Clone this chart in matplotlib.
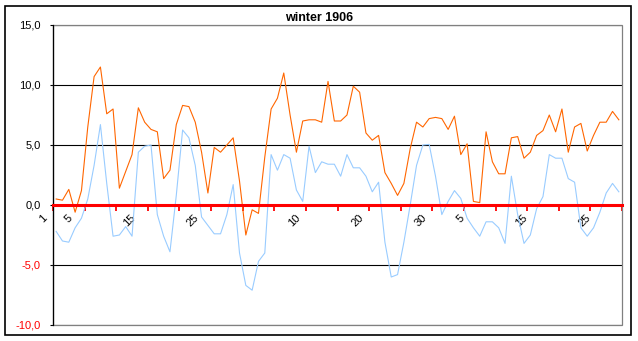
import numpy as np
import matplotlib
matplotlib.use('Agg')
import matplotlib.pyplot as plt
from matplotlib.patches import Rectangle
from matplotlib.transforms import ScaledTranslation

plt.rcParams['font.family'] = ['Liberation Sans', 'DejaVu Sans']

# Tagesmaxima / -minima, 1. Dez 1905 bis 28. Feb 1906 (90 Tage)
t_max = [0.5, 0.4, 1.3, -0.6, 1.2, 6.5, 10.7, 11.5, 7.6, 8.0,
         1.4, 2.8, 4.2, 8.1, 6.9, 6.3, 6.1, 2.2, 2.9, 6.7,
         8.3, 8.2, 6.9, 4.4, 1.0, 4.8, 4.4, 5.0, 5.6, 2.0,
         -2.5, -0.4, -0.7, 4.0, 8.0, 8.9, 11.0, 7.5, 4.4, 7.0,
         7.1, 7.1, 6.9, 10.3, 7.0, 7.0, 7.5, 9.9, 9.4, 6.0,
         5.4, 5.8, 2.7, 1.8, 0.8, 1.8, 4.7, 6.9, 6.5, 7.2,
         7.3, 7.2, 6.3, 7.4, 4.2, 5.1, 0.3, 0.2, 6.1, 3.6,
         2.6, 2.6, 5.6, 5.7, 3.9, 4.4, 5.8, 6.2, 7.5, 6.1,
         8.0, 4.4, 6.5, 6.8, 4.5, 5.8, 6.9, 6.9, 7.8, 7.1]
t_min = [-2.2, -3.0, -3.1, -1.9, -1.1, 0.5, 3.3, 6.7, 1.8, -2.6,
         -2.5, -1.8, -2.6, 4.4, 4.9, 5.0, -0.8, -2.6, -3.9, 0.8,
         6.25, 5.6, 3.3, -1.0, -1.7, -2.4, -2.4, -0.8, 1.7, -4.0,
         -6.7, -7.1, -4.7, -4.0, 4.2, 2.9, 4.2, 3.9, 1.25, 0.3,
         4.9, 2.7, 3.6, 3.4, 3.4, 2.4, 4.2, 3.1, 3.1, 2.4,
         1.1, 1.9, -3.1, -6.0, -5.8, -3.1, 0.0, 3.3, 5.0, 5.05,
         2.4, -0.8, 0.3, 1.2, 0.55, -1.1, -1.9, -2.6, -1.4, -1.4,
         -1.9, -3.2, 2.4, -0.8, -3.2, -2.5, -0.3, 0.7, 4.2, 3.9,
         3.9, 2.2, 1.9, -1.9, -2.6, -1.9, -0.6, 1.0, 1.8, 1.1]

# beschriftete Tage (Index) und ihre Texte
label_idx = [0, 4, 14, 24, 40, 50, 60, 66, 76, 86]
label_txt = ['1', '5', '15', '25', '10', '20', '30', '5', '15', '25']
y_ticks = [-10, -5, 0, 5, 10, 15]

W, H = 638, 341
fig = plt.figure(figsize=(W / 100, H / 100), dpi=100)
ax = fig.add_axes([53 / W, 16 / H, 569 / W, 300 / H])

x = np.arange(len(t_max))
ax.plot(x, t_max, color='#FF6600', lw=0.8, zorder=2)
ax.plot(x, t_min, color='#99CCFF', lw=0.8, zorder=2)

ax.set_xlim(-0.5, len(t_max) - 0.5)
ax.set_ylim(-10, 15)

# Gitter
ax.set_yticks(y_ticks)
ax.set_yticklabels([f'{v:.1f}'.replace('.', ',') for v in y_ticks])
ax.yaxis.grid(True, color='black', lw=0.8)
ax.set_axisbelow(True)
for lab, v in zip(ax.get_yticklabels(), y_ticks):
    lab.set_color('red' if v < 0 else 'black')
ax.tick_params(axis='y', length=2.5, width=0.8, pad=6.5, labelsize=8, color='black')

# Rahmen der Zeichenfläche
ax.add_patch(Rectangle((0, 0), 1, 1, transform=ax.transAxes, fill=False,
                       edgecolor='#808080', lw=0.9, zorder=2.2, clip_on=False))
ax.spines['top'].set_visible(False)
ax.spines['right'].set_visible(False)
ax.spines['left'].set_color('black')
ax.spines['left'].set_linewidth(0.9)
ax.spines['left'].set_zorder(3)

# x-Achse bei 0 in rot
ax.spines['bottom'].set_position(('data', 0))
ax.spines['bottom'].set_color('red')
ax.spines['bottom'].set_linewidth(2.2)
ax.spines['bottom'].set_zorder(3)
ax.set_xticks(np.arange(-0.5, len(t_max), 5), minor=True)
ax.set_xticks(label_idx)
ax.set_xticklabels(label_txt, rotation=45, ha='right', va='top')
ax.tick_params(axis='x', which='minor', length=4.2, width=1.3, color='red',
               direction='out', zorder=3)
ax.tick_params(axis='x', which='major', length=0, pad=5.5, labelsize=8)
shift = ScaledTranslation(-7 / 100, 0, fig.dpi_scale_trans)
for lab in ax.get_xticklabels():
    lab.set_transform(lab.get_transform() + shift)

fig.text(0.5, 1 - 21 / H, 'winter 1906', ha='center', va='baseline',
         fontsize=9, fontweight='bold')

# äußerer Rahmen
fig.patches.append(Rectangle((5 / W, 6 / H), 626 / W, 329 / H, transform=fig.transFigure,
                             fill=False, edgecolor='black', lw=1.2))

fig.savefig('out.png', dpi=100)
